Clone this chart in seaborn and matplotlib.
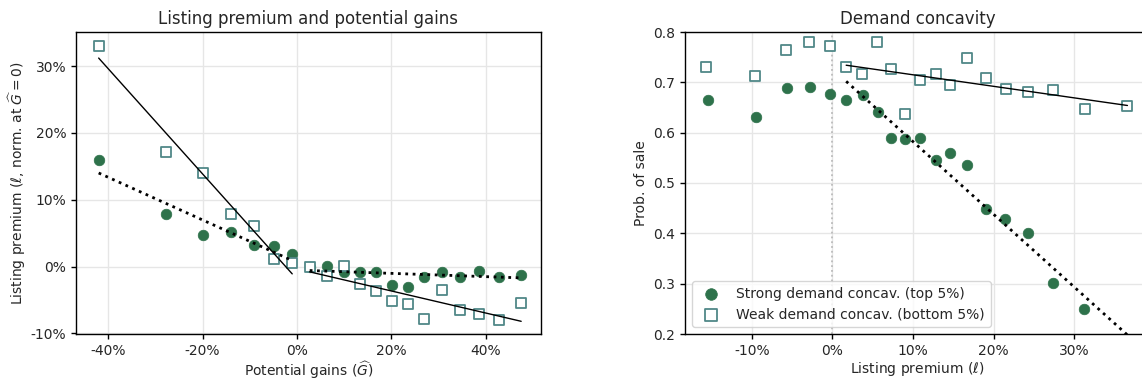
import numpy as np
import pandas as pd
import matplotlib
matplotlib.use("Agg")
import matplotlib.pyplot as plt
from matplotlib.ticker import FuncFormatter, FixedLocator
import seaborn as sns

# ---- Left panel: listing premium vs potential gains (binned) ----
gains = [-0.420, -0.277, -0.200, -0.140, -0.092, -0.049, -0.010, 0.027, 0.064, 0.100,
         0.134, 0.168, 0.201, 0.236, 0.270, 0.308, 0.345, 0.386, 0.429, 0.474]
premium_strong = [0.160, 0.078, 0.047, 0.051, 0.032, 0.031, 0.018, 0.000, 0.001, -0.008,
                  -0.0085, -0.0085, -0.027, -0.030, -0.016, -0.008, -0.015, -0.007, -0.016, -0.012]
premium_weak = [0.330, 0.171, 0.140, 0.078, 0.061, 0.012, 0.005, 0.000, -0.0145, 0.0005,
                -0.026, -0.036, -0.051, -0.056, -0.078, -0.035, -0.065, -0.071, -0.080, -0.054]

# piecewise linear fits (losses / gains side)
fit_gain_neg = [-0.420, -0.010]
fit_gain_pos = [0.027, 0.475]
fit_strong_neg = [0.140, 0.009]
fit_strong_pos = [-0.006, -0.017]
fit_weak_neg = [0.312, -0.011]
fit_weak_pos = [-0.008, -0.082]

# ---- Right panel: probability of sale vs listing premium ----
prem_strong = [-0.154, -0.095, -0.057, -0.028, -0.003, 0.017, 0.038, 0.056, 0.072, 0.090,
               0.108, 0.128, 0.146, 0.167, 0.190, 0.214, 0.242, 0.274, 0.312]
sale_strong = [0.665, 0.632, 0.688, 0.690, 0.676, 0.664, 0.674, 0.642, 0.589, 0.587,
               0.589, 0.545, 0.560, 0.535, 0.448, 0.429, 0.400, 0.302, 0.250]
prem_weak = [-0.157, -0.096, -0.058, -0.029, -0.003, 0.017, 0.037, 0.055, 0.072, 0.090,
             0.109, 0.128, 0.146, 0.167, 0.190, 0.215, 0.242, 0.274, 0.313, 0.366]
sale_weak = [0.730, 0.712, 0.765, 0.780, 0.773, 0.731, 0.716, 0.781, 0.727, 0.638,
             0.704, 0.717, 0.694, 0.748, 0.709, 0.686, 0.680, 0.684, 0.647, 0.653]

fit_prem = [0.017, 0.366]
fit_sale_strong = [0.702, 0.198]
fit_sale_weak = [0.734, 0.654]

labels = ["Strong demand concav. (top 5%)", "Weak demand concav. (bottom 5%)"]

GREEN = "#2e724b"
TEAL = "#508888"

sns.set_style("ticks", {"axes.grid": True, "grid.color": "#e6e6e6",
                        "axes.edgecolor": "black"})
plt.rcParams["font.family"] = ["DejaVu Sans"]
plt.rcParams["font.size"] = 10
plt.rcParams["axes.titlesize"] = 12
plt.rcParams["axes.labelsize"] = 10
plt.rcParams["xtick.labelsize"] = 10
plt.rcParams["ytick.labelsize"] = 10
plt.rcParams["mathtext.fontset"] = "dejavusans"

fig = plt.figure(figsize=(11.42, 3.81), dpi=100)
W, H = 1142, 381
ax1 = fig.add_axes([76 / W, (H - 334) / H, 465 / W, 302 / H])
ax2 = fig.add_axes([685 / W, (H - 334) / H, 465 / W, 302 / H])

pct = FuncFormatter(lambda v, _: f"{v * 100:.0f}%")

circle_kw = dict(marker="o", s=58, color=GREEN, edgecolor=GREEN, linewidth=0.5, zorder=3)
square_kw = dict(marker="s", s=56, facecolor="white", edgecolor=TEAL, linewidth=1.3, zorder=4)

# ---- left ----
left_s = pd.DataFrame({"x": gains, "y": premium_strong})
left_w = pd.DataFrame({"x": gains, "y": premium_weak})
sns.scatterplot(data=left_s, x="x", y="y", ax=ax1, **circle_kw)
sns.scatterplot(data=left_w, x="x", y="y", ax=ax1, **square_kw)

for xs, ys, style, lw in [
    (fit_gain_neg, fit_weak_neg, "-", 1.0),
    (fit_gain_pos, fit_weak_pos, "-", 1.0),
    (fit_gain_neg, fit_strong_neg, ":", 2.0),
    (fit_gain_pos, fit_strong_pos, ":", 2.0),
]:
    sns.lineplot(x=xs, y=ys, ax=ax1, color="black", linestyle=style, linewidth=lw,
                 zorder=5)

ax1.set_xlim(-0.468, 0.517)
ax1.set_ylim(-0.101, 0.351)
ax1.xaxis.set_major_locator(FixedLocator([-0.4, -0.2, 0.0, 0.2, 0.4]))
ax1.yaxis.set_major_locator(FixedLocator([-0.1, 0.0, 0.1, 0.2, 0.3]))
ax1.xaxis.set_major_formatter(pct)
ax1.yaxis.set_major_formatter(pct)
ax1.set_title("Listing premium and potential gains")
ax1.set_xlabel(r"Potential gains ($\widehat{G}$)", labelpad=1.5)
ax1.set_ylabel(r"Listing premium ($\ell$, norm. at $\widehat{G}=0$)", labelpad=2)

# ---- right ----
right_s = pd.DataFrame({"x": prem_strong, "y": sale_strong})
right_w = pd.DataFrame({"x": prem_weak, "y": sale_weak})
ax2.axvline(0, color="#bbbbbb", linestyle=":", linewidth=1.3, zorder=2)
sns.scatterplot(data=right_s, x="x", y="y", ax=ax2, label=labels[0], **circle_kw)
sns.scatterplot(data=right_w, x="x", y="y", ax=ax2, label=labels[1], **square_kw)
sns.lineplot(x=fit_prem, y=fit_sale_weak, ax=ax2, color="black", linestyle="-",
             linewidth=1.0, zorder=5)
sns.lineplot(x=fit_prem, y=fit_sale_strong, ax=ax2, color="black", linestyle=":",
             linewidth=2.0, zorder=5)

ax2.set_xlim(-0.183, 0.394)
ax2.set_ylim(0.2, 0.8)
ax2.xaxis.set_major_locator(FixedLocator([-0.1, 0.0, 0.1, 0.2, 0.3]))
ax2.xaxis.set_major_formatter(pct)
ax2.yaxis.set_major_locator(FixedLocator([0.2, 0.3, 0.4, 0.5, 0.6, 0.7, 0.8]))
ax2.yaxis.set_major_formatter(FuncFormatter(lambda v, _: f"{v:.1f}"))
ax2.set_title("Demand concavity")
ax2.set_xlabel(r"Listing premium ($\ell$)", labelpad=2)
ax2.set_ylabel("Prob. of sale")
ax2.legend(loc="lower left", frameon=True, fontsize=10, borderaxespad=0.5,
           markerscale=1.1)

for ax in (ax1, ax2):
    ax.tick_params(direction="out", length=3.5, width=1, color="black")
    for sp in ax.spines.values():
        sp.set_visible(True)
        sp.set_color("black")
        sp.set_linewidth(1.0)
    ax.grid(True, color="#e6e6e6", linewidth=1.0)
    ax.set_axisbelow(True)

fig.savefig("out.png", dpi=100)
